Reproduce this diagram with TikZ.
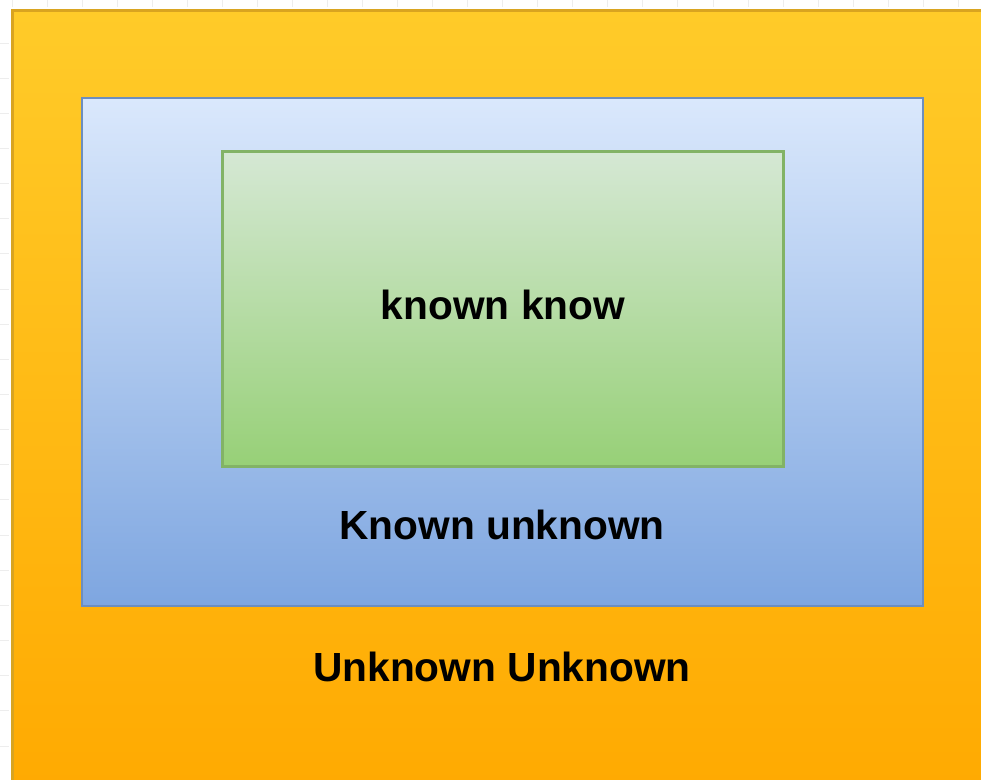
\documentclass[tikz,border=0pt]{standalone}
\usepackage{fontspec}
\setmainfont{Liberation Sans}
\usetikzlibrary{positioning}

\definecolor{outerTop}{HTML}{FFCB29}
\definecolor{outerBot}{HTML}{FFA900}
\definecolor{outerLine}{HTML}{D9A420}
\definecolor{blueTop}{HTML}{DAE8FC}
\definecolor{blueBot}{HTML}{7EA6E0}
\definecolor{blueLine}{HTML}{6C8EBF}
\definecolor{greenTop}{HTML}{D5E8D4}
\definecolor{greenBot}{HTML}{97D077}
\definecolor{greenLine}{HTML}{82B366}
\definecolor{gridTick}{HTML}{EDEDED}

\tikzset{
  zone/.style={rectangle, inner sep=0pt, line width=2.5pt},
  label text/.style={font=\fontsize{40.7}{48}\selectfont\bfseries, text=black, inner sep=0pt}
}

\begin{document}
\begin{tikzpicture}[x=1pt, y=-1pt]
  \useasboundingbox (0,0) rectangle (981,779);
  \clip (0,0) rectangle (981,779);
  \fill[white] (0,0) rectangle (981,779);

  % faint sheet ticks along the top and left margins
  \foreach \i in {0,...,27} {
    \draw[gridTick, line width=1pt] ({12+35.05*\i},0) -- ({12+35.05*\i},7);
  }
  \foreach \j in {0,...,21} {
    \draw[gridTick, line width=1pt] (0,{43+35.15*\j}) -- (9,{43+35.15*\j});
  }

  % nested zones
  \node[zone, draw=outerLine, top color=outerTop, bottom color=outerBot,
        minimum width=1000pt, minimum height=800pt, anchor=north west]
        (outer) at (11,9) {};
  \node[zone, draw=blueLine, top color=blueTop, bottom color=blueBot,
        line width=2pt, minimum width=841pt, minimum height=508pt, anchor=north west]
        (known) at (81,97) {};
  \node[zone, draw=greenLine, top color=greenTop, bottom color=greenBot,
        line width=2.5pt, minimum width=561pt, minimum height=315pt, anchor=north west]
        (inner) at (221,150) {};

  % zone labels
  \node[label text] (kk) at (503,305) {known know};
  \node[label text] (ku) at (502,525) {Known unknown};
  \node[label text] (uu) at (502,667) {Unknown Unknown};
\end{tikzpicture}
\end{document}
